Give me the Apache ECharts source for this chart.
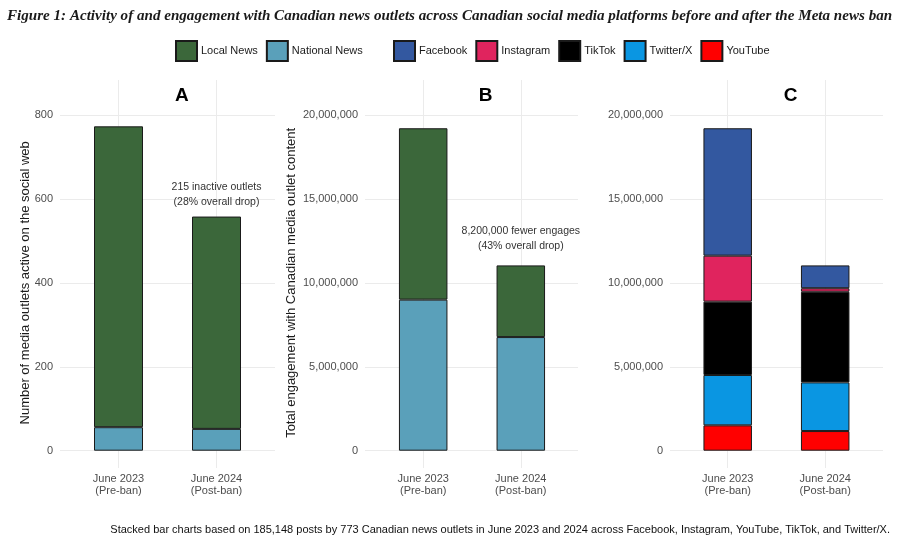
<!DOCTYPE html>
<html>
<head>
<meta charset="utf-8">
<script src="https://cdn.jsdelivr.net/npm/echarts@6/dist/echarts.min.js"></script>
<style>
  html, body { margin: 0; padding: 0; background: #fff; }
  #chart { width: 900px; height: 555px; }
</style>
</head>
<body>
<div id="chart"></div>
<script>
// categories
var periods = ['June 2023\n(Pre-ban)', 'June 2024\n(Post-ban)'];

// panel A: outlets active
var outletsNational = [56, 52];
var outletsLocal = [717, 506];

// panel B: engagement by outlet type
var engageNational = [9000000, 6770000];
var engageLocal = [10210000, 4270000];

// panel C: engagement by platform (bottom to top)
var platYouTube = [1510000, 1170000];
var platTwitter = [3000000, 2900000];
var platTikTok = [4370000, 5400000];
var platInstagram = [2740000, 210000];
var platFacebook = [7590000, 1360000];

var outletTicks = [0, 800, 200];
var engageTicks = [0, 20000000, 5000000];

var colors = {
    'Local News': '#3b673a',
    'National News': '#5aa0ba',
    'Facebook': '#3358a0',
    'Instagram': '#e0245e',
    'TikTok': '#000000',
    'Twitter/X': '#0a96e2',
    'YouTube': '#ff0000'
};

var chart = echarts.init(document.getElementById('chart'));

// pixel layout of the three panels
var H = 555, W = 900;
var zeroY = 450.7, topTickY = 115, panelTop = 80, panelBottom = 468;
var panels = [
    { left: 60, right: 275, c1: 118.5, c2: 216.5, bw: 49, title: 'A', tx: 183,
      ticks: outletTicks, name: 'Number of media outlets active on the social web', nameGap: 28 },
    { left: 365, right: 578, c1: 423.2, c2: 520.8, bw: 48.5, title: 'B', tx: 486.7,
      ticks: engageTicks, name: 'Total engagement with Canadian media outlet content', nameGap: 67 },
    { left: 670, right: 883, c1: 727.7, c2: 825.2, bw: 48.5, title: 'C', tx: 791.7,
      ticks: engageTicks, name: '', nameGap: 0 }
];

var grids = [], xAxes = [], yAxes = [], series = [], graphics = [];
var gridColor = '#ebebeb';

panels.forEach(function (p, i) {
    var max = p.ticks[1];
    var perPx = max / (zeroY - topTickY);
    // background grid: horizontal gridlines + y labels
    grids.push({ left: p.left, right: W - p.right, top: topTickY, bottom: H - zeroY });
    xAxes.push({ type: 'value', gridIndex: i * 2, show: false, min: 0, max: 1 });
    yAxes.push({
        type: 'value', gridIndex: i * 2, min: p.ticks[0], max: max, interval: p.ticks[2],
        axisLine: { show: false }, axisTick: { show: false },
        splitLine: { lineStyle: { color: gridColor, width: 1 } },
        axisLabel: { color: '#4d4d4d', fontSize: 11, margin: 7,
            formatter: function (v) { return v.toLocaleString('en-US'); } },
        name: p.name, nameLocation: 'middle', nameGap: p.nameGap, nameRotate: 90,
        nameMoveOverlap: false,
        nameTextStyle: { color: '#1a1a1a', fontSize: 13 }
    });
    // foreground grid: bars + vertical gridlines at category centres
    grids.push({ left: p.c1, right: W - p.c2, top: panelTop, bottom: H - panelBottom });
    xAxes.push({
        type: 'category', gridIndex: i * 2 + 1, data: periods, boundaryGap: false,
        axisLine: { show: false }, axisTick: { show: false },
        splitLine: { show: true, lineStyle: { color: gridColor, width: 1 } },
        axisLabel: { color: '#4d4d4d', fontSize: 11, lineHeight: 12, margin: 5 }
    });
    yAxes.push({
        type: 'value', gridIndex: i * 2 + 1, show: false,
        min: -(panelBottom - zeroY) * perPx, max: (zeroY - panelTop) * perPx
    });
    graphics.push({
        type: 'text', left: p.tx - 8, top: 86,
        style: { text: p.title, font: 'bold 19px "Liberation Sans"', fill: '#000' }
    });
});

function bar(name, data, panelIdx, extra) {
    var s = {
        name: name, type: 'bar', stack: 'p' + panelIdx, data: data,
        xAxisIndex: panelIdx * 2 + 1, yAxisIndex: panelIdx * 2 + 1,
        barWidth: panels[panelIdx].bw, clip: false,
        itemStyle: { color: colors[name], borderColor: '#1a1a1a', borderWidth: 1 },
        emphasis: { disabled: true }
    };
    return Object.assign(s, extra || {});
}

function note(text, yVal) {
    return {
        symbol: 'rect', symbolSize: 0,
        label: { show: true, position: 'inside', formatter: text, color: '#333',
            fontSize: 10.5, lineHeight: 15 },
        data: [{ coord: [1, yVal] }]
    };
}

series.push(bar('National News', outletsNational, 0));
series.push(bar('Local News', outletsLocal, 0,
    { markPoint: note('215 inactive outlets\n(28% overall drop)', 610) }));
series.push(bar('National News', engageNational, 1));
series.push(bar('Local News', engageLocal, 1,
    { markPoint: note('8,200,000 fewer engages\n(43% overall drop)', 12660000) }));
series.push(bar('YouTube', platYouTube, 2));
series.push(bar('Twitter/X', platTwitter, 2));
series.push(bar('TikTok', platTikTok, 2));
series.push(bar('Instagram', platInstagram, 2));
series.push(bar('Facebook', platFacebook, 2));

graphics.push({
    type: 'text', right: 10, top: 524,
    style: {
        text: 'Stacked bar charts based on 185,148 posts by 773 Canadian news outlets in June 2023 and 2024 across Facebook, Instagram, YouTube, TikTok, and Twitter/X.',
        font: '11px "Liberation Sans"', fill: '#111'
    }
});

var legendBase = {
    top: 40, padding: 0, itemWidth: 21, itemHeight: 20, itemGap: 8, icon: 'rect',
    textStyle: { color: '#1a1a1a', fontSize: 11, padding: [0, 0, 0, -1] },
    selectedMode: false
};

var option = {
    animation: false,
    textStyle: { fontFamily: 'Liberation Sans' },
    title: {
        text: 'Figure 1: Activity of and engagement with Canadian news outlets across Canadian social media platforms before and after the Meta news ban',
        left: 2, top: 4,
        textStyle: { fontFamily: 'Liberation Serif', fontStyle: 'italic', fontWeight: 'bold',
            fontSize: 15.1, color: '#1a1a1a' }
    },
    legend: [
        Object.assign({ left: 175, data: ['Local News', 'National News'] }, legendBase),
        Object.assign({ left: 393, data: ['Facebook', 'Instagram', 'TikTok', 'Twitter/X', 'YouTube'] }, legendBase)
    ],
    grid: grids,
    xAxis: xAxes,
    yAxis: yAxes,
    series: series,
    graphic: graphics
};

chart.setOption(option);
</script>
</body>
</html>
